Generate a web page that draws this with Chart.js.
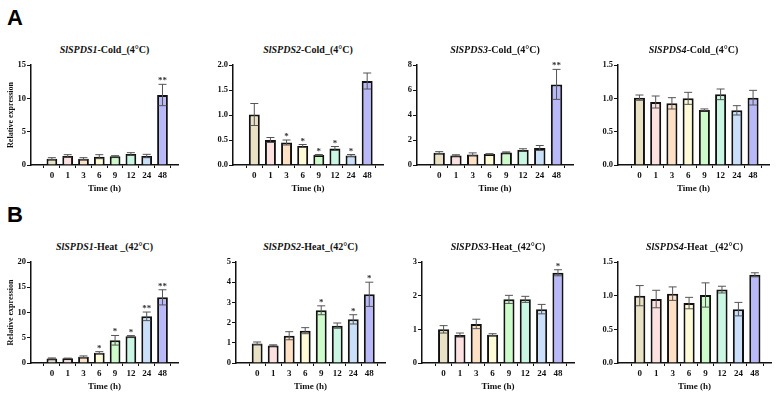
<!DOCTYPE html>
<html>
<head>
<meta charset="utf-8">
<script src="https://cdn.jsdelivr.net/npm/chart.js@4.4.0/dist/chart.umd.min.js"></script>
<style>
  body { margin: 0; background: #fff; width: 776px; height: 393px; position: relative; overflow: hidden; font-family: "Liberation Serif", serif; }
  canvas { position: absolute; }
  .title { position: absolute; font-weight: bold; font-size: 10px; line-height: 14px; text-align: center; white-space: nowrap; color: #111; }
  .letter { position: absolute; font-family: "Liberation Sans", Arial, sans-serif; font-weight: bold; font-size: 22px; color: #000; }
</style>
</head>
<body>
<div class="letter" style="left:7px;top:5px">A</div>
<div class="letter" style="left:7px;top:202px">B</div>

<script>
// categories and bar colours
const times = ["0", "1", "3", "6", "9", "12", "24", "48"];
const barColors = ["#e8e1c4", "#fde1e1", "#fee0c5", "#fefbd6", "#cdfbc9", "#c9f7e3", "#c9dffa", "#b9b9f9"];

// A - cold (4°C)
const cold1Values = [0.95, 1.35, 0.95, 1.25, 1.3, 1.65, 1.35, 10.5];
const cold1Errors = [0.15, 0.2, 0.15, 0.3, 0.1, 0.2, 0.25, 1.6];
const cold1Stars = ["", "", "", "", "", "", "", "**"];
const cold1Ticks = [0, 5, 10, 15];

const cold2Values = [1.01, 0.5, 0.45, 0.38, 0.2, 0.33, 0.19, 1.68];
const cold2Errors = [0.22, 0.05, 0.05, 0.03, 0.01, 0.04, 0.02, 0.16];
const cold2Stars = ["", "", "*", "*", "*", "*", "*", ""];
const cold2Ticks = [0, 0.5, 1, 1.5, 2];

const cold3Values = [0.99, 0.77, 0.85, 0.88, 1.01, 1.2, 1.36, 6.45];
const cold3Errors = [0.08, 0.05, 0.12, 0.03, 0.04, 0.1, 0.2, 1.2];
const cold3Stars = ["", "", "", "", "", "", "", "**"];
const cold3Ticks = [0, 2, 4, 6, 8];

const cold4Values = [1.01, 0.945, 0.925, 1.0, 0.826, 1.06, 0.82, 1.01];
const cold4Errors = [0.04, 0.09, 0.085, 0.09, 0.015, 0.08, 0.07, 0.11];
const cold4Stars = ["", "", "", "", "", "", "", ""];
const cold4Ticks = [0, 0.5, 1, 1.5];

// B - heat (42°C)
const heat1Values = [0.9, 0.92, 1.25, 2.05, 4.5, 5.28, 9.24, 13.0];
const heat1Errors = [0.1, 0.05, 0.15, 0.2, 0.95, 0.15, 0.85, 1.5];
const heat1Stars = ["", "", "", "*", "*", "*", "**", "**"];
const heat1Ticks = [0, 5, 10, 15, 20];

const heat2Values = [0.97, 0.87, 1.35, 1.6, 2.61, 1.85, 2.16, 3.4];
const heat2Errors = [0.07, 0.03, 0.2, 0.15, 0.22, 0.13, 0.23, 0.6];
const heat2Stars = ["", "", "", "", "*", "", "*", "*"];
const heat2Ticks = [0, 1, 2, 3, 4, 5];

const heat3Values = [1.0, 0.83, 1.16, 0.84, 1.89, 1.89, 1.6, 2.68];
const heat3Errors = [0.11, 0.06, 0.14, 0.03, 0.12, 0.09, 0.14, 0.09];
const heat3Stars = ["", "", "", "", "", "", "", "*"];
const heat3Ticks = [0, 1, 2, 3];

const heat4Values = [1.0, 0.95, 1.03, 0.89, 1.01, 1.09, 0.8, 1.31];
const heat4Errors = [0.15, 0.13, 0.1, 0.085, 0.18, 0.05, 0.1, 0.03];
const heat4Stars = ["", "", "", "", "", "", "", ""];
const heat4Ticks = [0, 0.5, 1, 1.5];

// panel layout: axis x, plot right, plot top, plot bottom
const panels = [
  { gene: "SlSPDS1", cond: "-Cold_(4°C)", values: cold1Values, errors: cold1Errors, stars: cold1Stars, ticks: cold1Ticks, yTitle: true, ax: 31, right: 178, top: 64.5, bottom: 165 },
  { gene: "SlSPDS2", cond: "-Cold_(4°C)", values: cold2Values, errors: cold2Errors, stars: cold2Stars, ticks: cold2Ticks, yTitle: false, ax: 233, right: 383, top: 64.5, bottom: 165 },
  { gene: "SlSPDS3", cond: "-Cold_(4°C)", values: cold3Values, errors: cold3Errors, stars: cold3Stars, ticks: cold3Ticks, yTitle: false, ax: 417, right: 573, top: 64.5, bottom: 165 },
  { gene: "SlSPDS4", cond: "-Cold_(4°C)", values: cold4Values, errors: cold4Errors, stars: cold4Stars, ticks: cold4Ticks, yTitle: false, ax: 618, right: 769, top: 64.5, bottom: 165 },
  { gene: "SlSPDS1", cond: "-Heat _(42°C)", values: heat1Values, errors: heat1Errors, stars: heat1Stars, ticks: heat1Ticks, yTitle: true, ax: 31, right: 178, top: 262, bottom: 363 },
  { gene: "SlSPDS2", cond: "-Heat_(42°C)", values: heat2Values, errors: heat2Errors, stars: heat2Stars, ticks: heat2Ticks, yTitle: false, ax: 236, right: 385, top: 262, bottom: 363 },
  { gene: "SlSPDS3", cond: "-Heat_(42°C)", values: heat3Values, errors: heat3Errors, stars: heat3Stars, ticks: heat3Ticks, yTitle: false, ax: 422, right: 574, top: 262, bottom: 363 },
  { gene: "SlSPDS4", cond: "-Heat _(42°C)", values: heat4Values, errors: heat4Errors, stars: heat4Stars, ticks: heat4Ticks, yTitle: false, ax: 618, right: 771, top: 262, bottom: 363 }
];

const XH = 29;   // x scale height
const PADT = 8;
const PADR = 6;

// error bars and significance marks
const errorBarPlugin = {
  id: "errorBars",
  afterDatasetsDraw(chart, args, opts) {
    const ctx = chart.ctx;
    const y = chart.scales.y;
    const meta = chart.getDatasetMeta(0);
    ctx.save();
    meta.data.forEach((bar, i) => {
      const v = opts.values[i], e = opts.errors[i];
      const yHi = y.getPixelForValue(v + e);
      const yLo = y.getPixelForValue(v - e);
      ctx.strokeStyle = "#555";
      ctx.lineWidth = 1;
      ctx.beginPath();
      ctx.moveTo(bar.x, yHi); ctx.lineTo(bar.x, yLo);
      ctx.moveTo(bar.x - 4, yHi); ctx.lineTo(bar.x + 4, yHi);
      ctx.moveTo(bar.x - 4, yLo); ctx.lineTo(bar.x + 4, yLo);
      ctx.stroke();
      if (opts.stars[i]) {
        ctx.fillStyle = "#333";
        ctx.font = "bold 9px 'Liberation Serif'";
        ctx.textAlign = "center";
        ctx.textBaseline = "alphabetic";
        ctx.fillText(opts.stars[i], bar.x, yHi - 1);
      }
    });
    ctx.restore();
  }
};

panels.forEach((p) => {
  const yw = p.yTitle ? 25 : 32;   // y scale width
  const w = p.right - p.ax + yw + PADR;
  const h = p.bottom - p.top + PADT + XH;
  const canvas = document.createElement("canvas");
  canvas.width = w;
  canvas.height = h;
  canvas.style.left = (p.ax - yw) + "px";
  canvas.style.top = (p.top - PADT) + "px";
  document.body.appendChild(canvas);

  const title = document.createElement("div");
  title.className = "title";
  title.style.left = p.ax + "px";
  title.style.width = (p.right - p.ax) + "px";
  title.style.top = (p.top - 22) + "px";
  title.innerHTML = "<i>" + p.gene + "</i>" + p.cond;
  document.body.appendChild(title);

  const decimals = p.ticks.some((t) => t % 1 !== 0) ? 1 : 0;

  new Chart(canvas, {
    type: "bar",
    data: {
      datasets: [{
        data: p.values.map((v, i) => ({ x: i, y: v })),
        backgroundColor: barColors,
        borderColor: "#111",
        borderWidth: 2,
        barPercentage: 0.68,
        categoryPercentage: 1
      }]
    },
    options: {
      responsive: false,
      animation: false,
      layout: { padding: { top: PADT, right: PADR, left: 0, bottom: 0 } },
      plugins: {
        legend: { display: false },
        tooltip: { enabled: false },
        errorBars: { values: p.values, errors: p.errors, stars: p.stars }
      },
      scales: {
        x: {
          type: "linear",
          min: -0.74,
          max: 7.4,
          afterBuildTicks: (s) => { s.ticks = times.map((t, i) => ({ value: i })); },
          afterFit: (s) => { s.height = XH; },
          grid: { drawOnChartArea: false, drawTicks: true, tickLength: 3, color: "#111" },
          border: { display: true, color: "#111", width: 1.5 },
          ticks: {
            autoSkip: false, maxRotation: 0, padding: 2, color: "#111",
            font: { family: "Liberation Serif", weight: "bold", size: 9 },
            callback: (v, i) => times[i]
          },
          title: {
            display: true, text: "Time (h)", color: "#111", padding: { top: 2, bottom: 0 },
            font: { family: "Liberation Serif", weight: "bold", size: 9 }
          }
        },
        y: {
          min: p.ticks[0],
          max: p.ticks[p.ticks.length - 1],
          afterBuildTicks: (s) => { s.ticks = p.ticks.map((t) => ({ value: t })); },
          afterFit: (s) => { s.width = yw; },
          grid: { drawOnChartArea: false, drawTicks: true, tickLength: 4, color: "#111" },
          border: { display: true, color: "#111", width: 1.5 },
          ticks: {
            padding: 1, color: "#111",
            font: { family: "Liberation Serif", weight: "bold", size: 8.5 },
            callback: (v) => v.toFixed(decimals)
          },
          title: {
            display: p.yTitle, text: "Relative expression", color: "#111", padding: { top: 0, bottom: 0 },
            font: { family: "Liberation Serif", weight: "bold", size: 8 }
          }
        }
      }
    },
    plugins: [errorBarPlugin]
  });
});
</script>
</body>
</html>
